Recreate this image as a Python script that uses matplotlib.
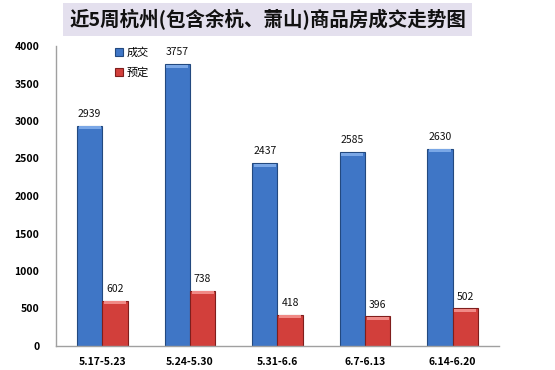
import matplotlib
matplotlib.use("Agg")
import matplotlib.pyplot as plt
import numpy as np

plt.rcParams['font.family'] = ['Noto Sans CJK SC', 'DejaVu Sans']

weeks = ["5.17-5.23", "5.24-5.30", "5.31-6.6", "6.7-6.13", "6.14-6.20"]
deals = [2939, 3757, 2437, 2585, 2630]
booked = [602, 738, 418, 396, 502]
series_names = ["成交", "预定"]

BLUE = "#3f76c6"
BLUE_EDGE = "#23497f"
RED = "#d23f3b"
RED_EDGE = "#7f1e1c"

fig = plt.figure(figsize=(5.55, 3.70), dpi=100)
fig.patch.set_facecolor("white")

fig.text(0.482, 0.947, "近5周杭州(包含余杭、萧山)商品房成交走势图",
         ha="center", va="center", fontsize=14, fontweight="bold", color="#111111",
         bbox=dict(boxstyle="square,pad=0.3", fc="#e4e0ee", ec="none"))

ax = fig.add_axes([56 / 555, 1 - 346 / 370, 443 / 555, 300 / 370])
x = np.arange(len(weeks))
w = 0.29
b1 = ax.bar(x - w / 2, deals, w, color=BLUE, edgecolor=BLUE_EDGE, linewidth=0.8,
            label=series_names[0])
b2 = ax.bar(x + w / 2, booked, w, color=RED, edgecolor=RED_EDGE, linewidth=0.8,
            label=series_names[1])

# light bevel on top of each bar
for bars, hl in ((b1, "#7aa7e6"), (b2, "#f08a86")):
    for r in bars:
        ax.add_patch(plt.Rectangle((r.get_x() + 0.02, r.get_height() - 45),
                                   r.get_width() - 0.04, 40, color=hl, lw=0, zorder=3))

for bars in (b1, b2):
    for r in bars:
        ax.text(r.get_x() + r.get_width() / 2, r.get_height() + 90, f"{int(r.get_height())}",
                ha="center", va="bottom", fontsize=7.5, color="#111111")

ax.set_xlim(-0.53, len(weeks) - 0.47)
ax.set_ylim(0, 4000)
ax.set_yticks(np.arange(0, 4001, 500))
ax.set_xticks(x)
ax.set_xticklabels(weeks)
ax.tick_params(axis="both", labelsize=7.5, length=0, pad=12)
ax.tick_params(axis="x", pad=8)
for lab in ax.get_yticklabels() + ax.get_xticklabels():
    lab.set_fontweight("bold")
for s in ("top", "right"):
    ax.spines[s].set_visible(False)
for s in ("left", "bottom"):
    ax.spines[s].set_color("#a0a0a0")
    ax.spines[s].set_linewidth(1.0)

leg = ax.legend(loc="upper left", bbox_to_anchor=(0.11, 1.03), frameon=False,
                fontsize=8, handlelength=0.7, handleheight=0.7, labelspacing=0.9,
                handletextpad=0.4)

fig.savefig("out.png", dpi=100, facecolor="white")
